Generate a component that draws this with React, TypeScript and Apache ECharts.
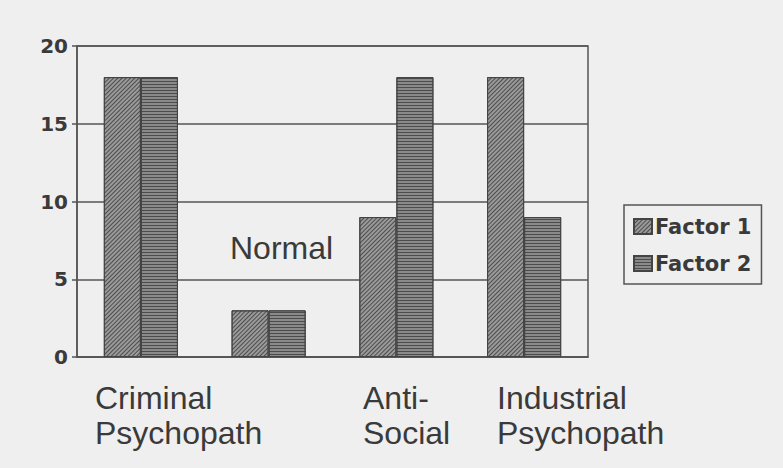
import React, { useEffect, useRef } from "react";
import * as echarts from "echarts";

const categories = ["Criminal Psychopath", "Normal", "Anti-Social", "Industrial Psychopath"];
const factor1 = [18, 3, 9, 18];
const factor2 = [18, 3, 18, 9];
const seriesNames = ["Factor 1", "Factor 2"];
const yTicks = { min: 0, max: 20, interval: 5 };

export default function App() {
  const ref = useRef<HTMLDivElement>(null);
  useEffect(() => {
    if (!ref.current) return;
    const chart = echarts.init(ref.current, null, { renderer: "svg" });
    const lineColor = "#555555";
    const textColor = "#3a3a3a";
    const labelFont = '32px "Liberation Sans"';
    chart.setOption({
      animation: false,
      backgroundColor: "#efefef",
      grid: {
        left: 77,
        right: 195,
        top: 46,
        bottom: 111,
        show: true,
        borderColor: lineColor,
        borderWidth: 1.5,
        backgroundColor: "transparent",
      },
      legend: {
        left: 624,
        top: 205,
        orient: "vertical",
        icon: "rect",
        padding: [11, 10, 10, 9],
        itemGap: 16,
        itemWidth: 18,
        itemHeight: 15,
        borderColor: lineColor,
        borderWidth: 1.5,
        data: seriesNames,
        textStyle: {
          fontFamily: "DejaVu Sans",
          fontWeight: "bold",
          fontSize: 21,
          color: textColor,
          padding: [0, 0, 0, -2],
        },
      },
      xAxis: {
        type: "category",
        data: categories,
        axisLine: { show: true, lineStyle: { color: lineColor, width: 1.5 } },
        axisTick: { show: false },
        axisLabel: { show: false },
        splitLine: { show: false },
      },
      yAxis: {
        type: "value",
        min: yTicks.min,
        max: yTicks.max,
        interval: yTicks.interval,
        axisLine: { show: true, lineStyle: { color: lineColor, width: 1.5 } },
        axisTick: { show: true, length: 5, lineStyle: { color: lineColor, width: 1.5 } },
        axisLabel: {
          margin: 9,
          fontFamily: "DejaVu Sans",
          fontWeight: "bold",
          fontSize: 20,
          color: textColor,
        },
        splitLine: { show: true, lineStyle: { color: lineColor, width: 1.5 } },
      },
      series: [
        {
          name: seriesNames[0],
          type: "bar",
          data: factor1,
          barWidth: "29%",
          barGap: "0%",
          itemStyle: {
            color: "#9a9a9a",
            borderColor: "#444444",
            borderWidth: 1,
            decal: {
              symbol: "rect",
              symbolSize: 1,
              color: "rgba(50,50,50,0.75)",
              dashArrayX: [1, 0],
              dashArrayY: [1, 2],
              rotation: -Math.PI / 4,
            },
          },
        },
        {
          name: seriesNames[1],
          type: "bar",
          data: factor2,
          barWidth: "29%",
          barGap: "0%",
          itemStyle: {
            color: "#8a8a8a",
            borderColor: "#444444",
            borderWidth: 1,
            decal: {
              symbol: "rect",
              symbolSize: 1,
              color: "rgba(50,50,50,0.7)",
              dashArrayX: [1, 0],
              dashArrayY: [1, 2],
              rotation: 0,
            },
          },
        },
      ],
      graphic: [
        {
          type: "text",
          left: 95,
          top: 380,
          style: { text: "Criminal\nPsychopath", font: labelFont, fill: textColor, lineHeight: 35 },
        },
        {
          type: "text",
          left: 230,
          top: 230,
          style: { text: "Normal", font: labelFont, fill: textColor, lineHeight: 35 },
        },
        {
          type: "text",
          left: 363,
          top: 380,
          style: { text: "Anti-\nSocial", font: labelFont, fill: textColor, lineHeight: 35 },
        },
        {
          type: "text",
          left: 497,
          top: 380,
          style: { text: "Industrial\nPsychopath", font: labelFont, fill: textColor, lineHeight: 35 },
        },
      ],
    });
    return () => chart.dispose();
  }, []);
  return <div ref={ref} style={{ width: 783, height: 468, position: "absolute", left: 0, top: 0 }} />;
}
